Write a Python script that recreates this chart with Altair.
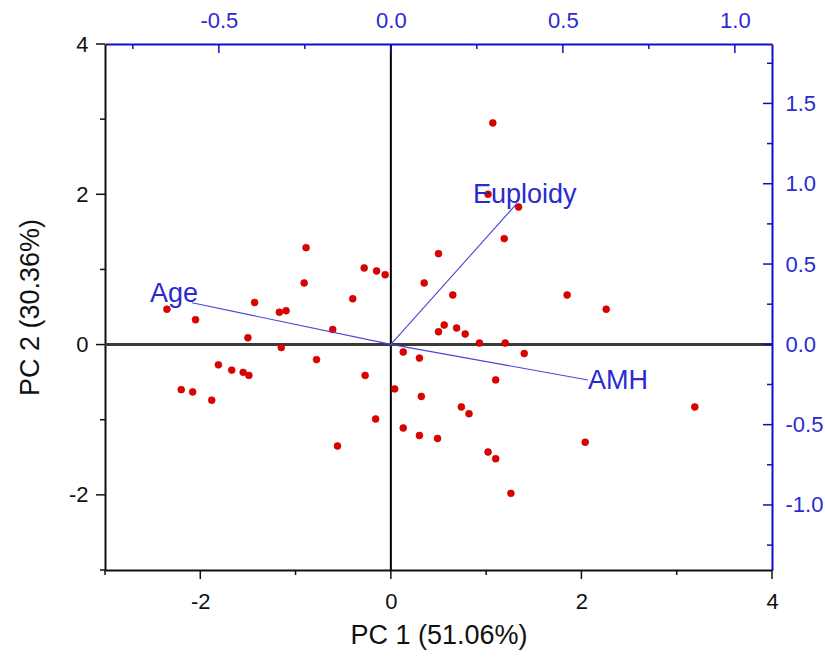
import altair as alt
import pandas as pd

# ---- data: PCA scores (PC1, PC2) ----
pc1 = [-0.89, -0.91, -0.28, -0.15, -0.06, -1.43, -1.17, -1.10, -0.40, -2.35,
       -2.05, -1.50, -0.61, -1.15, -0.78, -1.81, -1.67, -1.55, -1.49, -2.20,
       -2.08, -1.88, -0.27, -0.16, -0.56, 0.13, 0.30, 0.04, 0.32, 0.13,
       0.30, 0.49, 1.07, 1.02, 1.34, 1.19, 0.50, 0.35, 0.65, 1.85,
       2.26, 0.56, 0.50, 0.69, 0.78, 0.93, 1.20, 1.40, 1.10, 0.74,
       0.82, 3.19, 2.04, 1.02, 1.10, 1.26]
pc2 = [1.29, 0.82, 1.02, 0.98, 0.93, 0.56, 0.43, 0.45, 0.61, 0.47,
       0.33, 0.09, 0.20, -0.04, -0.20, -0.27, -0.34, -0.37, -0.41, -0.60,
       -0.63, -0.74, -0.41, -0.99, -1.35, -0.10, -0.18, -0.59, -0.69, -1.11,
       -1.21, -1.25, 2.95, 2.00, 1.83, 1.41, 1.21, 0.82, 0.66, 0.66,
       0.47, 0.26, 0.17, 0.22, 0.14, 0.02, 0.02, -0.12, -0.47, -0.83,
       -0.92, -0.83, -1.30, -1.43, -1.52, -1.98]

# ---- data: loadings ----
variables = ["Age", "Euploidy", "AMH"]
load1 = [-0.578, 0.366, 0.573]
load2 = [0.259, 0.876, -0.222]

# ---- tick values ----
score_major = [-2, 0, 2, 4]
score_minor = [-3, -1, 1, 3]
loadx_major = [-0.5, 0.0, 0.5, 1.0]
loadx_minor = [-0.75, -0.25, 0.25, 0.75]
loady_major = [-1.0, -0.5, 0.0, 0.5, 1.0, 1.5]
loady_minor = [-1.25, -0.75, -0.25, 0.25, 0.75, 1.25, 1.75]

W, H = 667, 526
FONT = "Liberation Sans"
BLUE = "#0f0fc8"
TBLUE = "#2a2ad2"
BLACK = "#111111"
TICK_FS = 22
TITLE_FS = 27
MAJ, MIN = 9, 5

scores = pd.DataFrame({"PC1": pc1, "PC2": pc2})
loads = pd.DataFrame({"variable": variables, "L1": load1, "L2": load2, "o": 0.0})
zero = pd.DataFrame({"z": [0.0]})

SX = [-3, 4]
SY = [-3, 4]
LX = [-0.831, 1.108]
LY = [-1.405, 1.87]

def sc(dom):
    return alt.Scale(domain=dom, nice=False, zero=False)

int_lbl = "datum.value < 0 ? '-' + format(-datum.value, 'd') : format(datum.value, 'd')"
dec_lbl = "datum.value < 0 ? '-' + format(-datum.value, '.1f') : format(datum.value, '.1f')"

ax_bottom = alt.Axis(orient="bottom", values=score_major, ticks=False, labelExpr=int_lbl,
                     domainColor=BLACK, domainWidth=2, labelColor=BLACK, labelFont=FONT,
                     labelFontSize=TICK_FS, labelPadding=21, title="PC 1 (51.06%)",
                     titleFont=FONT, titleFontSize=TITLE_FS, titleFontWeight="normal",
                     titleColor=BLACK, titlePadding=10)
ax_left = alt.Axis(orient="left", values=score_major, ticks=False, labelExpr=int_lbl,
                   domainColor=BLACK, domainWidth=2, labelColor=BLACK, labelFont=FONT,
                   labelFontSize=TICK_FS, labelPadding=17, title="PC 2 (30.36%)",
                   titleFont=FONT, titleFontSize=TITLE_FS, titleFontWeight="normal",
                   titleColor=BLACK, titlePadding=24)
ax_top = alt.Axis(orient="top", values=loadx_major, ticks=False, labelExpr=dec_lbl,
                  domainColor=BLUE, domainWidth=2, labelColor=TBLUE, labelFont=FONT,
                  labelFontSize=TICK_FS, labelPadding=12, title=None)
ax_right = alt.Axis(orient="right", values=loady_major, ticks=False, labelExpr=dec_lbl,
                    domainColor=BLUE, domainWidth=2, labelColor=TBLUE, labelFont=FONT,
                    labelFontSize=TICK_FS, labelPadding=13, title=None)

# ---------- score-scale layers (bottom / left axes) ----------
vline = alt.Chart(zero).mark_rule(color="black", strokeWidth=2).encode(
    x=alt.X("z:Q", scale=sc(SX), axis=None))
hline = alt.Chart(zero).mark_rule(color="#3a3a3a", strokeWidth=3).encode(
    y=alt.Y("z:Q", scale=sc(SY), axis=None))

def bottom_ticks(vals, ln):
    df = pd.DataFrame({"v": vals})
    return alt.Chart(df).mark_rule(color=BLACK, strokeWidth=1.5).encode(
        x=alt.X("v:Q", scale=sc(SX), axis=None),
        y=alt.value(H), y2=alt.value(H + ln))

def left_ticks(vals, ln):
    df = pd.DataFrame({"v": vals})
    return alt.Chart(df).mark_rule(color=BLACK, strokeWidth=1.5).encode(
        y=alt.Y("v:Q", scale=sc(SY), axis=None),
        x=alt.value(0), x2=alt.value(-ln))

pts = alt.Chart(scores).mark_circle(size=48, color="#e00000", opacity=1,
                                     stroke="#b80000", strokeWidth=0.6).encode(
    x=alt.X("PC1:Q", scale=sc(SX), axis=ax_bottom),
    y=alt.Y("PC2:Q", scale=sc(SY), axis=ax_left))

# ---------- loading-scale layers (top / right axes) ----------
def top_ticks(vals, ln):
    df = pd.DataFrame({"v": vals})
    return alt.Chart(df).mark_rule(color=BLUE, strokeWidth=1.5).encode(
        x=alt.X("v:Q", scale=sc(LX), axis=None),
        y=alt.value(0), y2=alt.value(ln))

def right_ticks(vals, ln):
    df = pd.DataFrame({"v": vals})
    return alt.Chart(df).mark_rule(color=BLUE, strokeWidth=1.5).encode(
        y=alt.Y("v:Q", scale=sc(LY), axis=None),
        x=alt.value(W), x2=alt.value(W - ln))

vectors = alt.Chart(loads).mark_rule(color="#4646d8", strokeWidth=1.1).encode(
    x=alt.X("o:Q", scale=sc(LX), axis=ax_top), x2="L1:Q",
    y=alt.Y("o:Q", scale=sc(LY), axis=ax_right), y2="L2:Q")

def vec_label(name, **kw):
    return alt.Chart(loads).transform_filter(alt.datum.variable == name).mark_text(
        font=FONT, fontSize=27, color=TBLUE, **kw).encode(
        x=alt.X("L1:Q", scale=sc(LX), axis=None),
        y=alt.Y("L2:Q", scale=sc(LY), axis=None),
        text="variable:N")

chart = alt.layer(
    vline, hline,
    bottom_ticks(score_major, MAJ), bottom_ticks(score_minor, MIN),
    left_ticks(score_major, MAJ), left_ticks(score_minor, MIN),
    top_ticks(loadx_major, MAJ), top_ticks(loadx_minor, MIN),
    right_ticks(loady_major, MAJ), right_ticks(loady_minor, MIN),
    pts,
    vectors,
    vec_label("Age", align="right", baseline="alphabetic", dx=6, dy=-1),
    vec_label("Euploidy", align="center", baseline="alphabetic", dx=8, dy=-1),
    vec_label("AMH", align="left", baseline="middle", dx=0, dy=1),
).resolve_scale(
    x="independent", y="independent"
).properties(
    width=W, height=H,
    autosize=alt.AutoSizeParams(type="none"),
    padding={"left": 105, "top": 44, "right": 825 - 105 - W, "bottom": 657 - 44 - H},
    background="white"
).configure_view(stroke=None).configure_axis(grid=False, labelFlush=False, labelOverlap=False)

chart.save("out.html", embed_options={"renderer": "svg", "actions": False})
